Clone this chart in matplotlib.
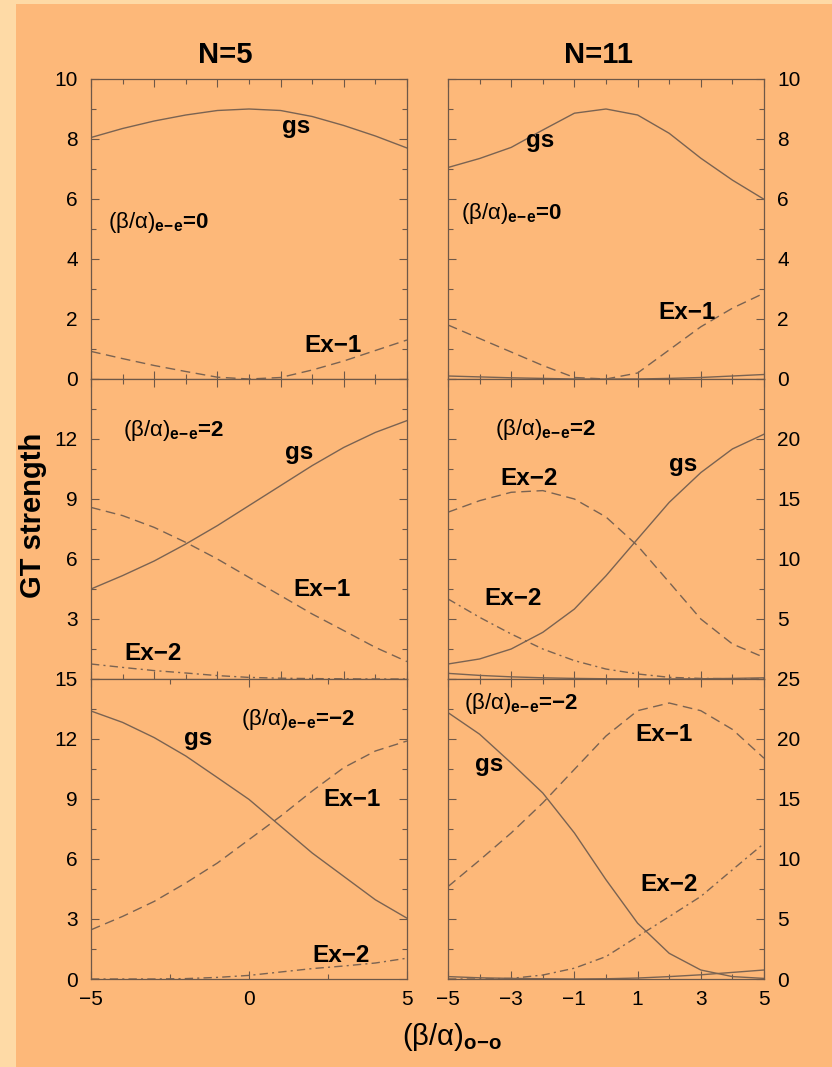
import numpy as np
import matplotlib.pyplot as plt
from matplotlib.patches import Rectangle
from matplotlib.ticker import MultipleLocator, FixedLocator
from matplotlib import font_manager

# data
x = np.arange(-5, 6)

# N=5, (b/a)e-e = 0
n5_e0_gs  = [8.05, 8.35, 8.6, 8.8, 8.95, 9.0, 8.95, 8.75, 8.45, 8.1, 7.7]
n5_e0_ex1 = [0.92, 0.68, 0.45, 0.25, 0.06, 0.0, 0.05, 0.3, 0.6, 0.95, 1.3]
# N=11, (b/a)e-e = 0
n11_e0_gs  = [7.05, 7.35, 7.72, 8.3, 8.86, 9.0, 8.8, 8.19, 7.36, 6.63, 5.99]
n11_e0_ex1 = [1.8, 1.35, 0.9, 0.45, 0.05, 0.0, 0.2, 0.97, 1.74, 2.36, 2.86]
n11_e0_low = [0.1, 0.07, 0.04, 0.02, 0.0, 0.0, 0.0, 0.02, 0.05, 0.1, 0.15]

# N=5, (b/a)e-e = 2
n5_e2_gs  = [4.5, 5.17, 5.9, 6.75, 7.67, 8.67, 9.67, 10.67, 11.58, 12.33, 12.92]
n5_e2_ex1 = [8.58, 8.17, 7.58, 6.83, 6.0, 5.08, 4.17, 3.25, 2.42, 1.58, 0.87]
n5_e2_ex2 = [0.75, 0.58, 0.42, 0.3, 0.17, 0.08, 0.04, 0.02, 0.01, 0.0, 0.0]
# N=11, (b/a)e-e = 2
n11_e2_gs  = [1.25, 1.67, 2.5, 3.89, 5.83, 8.6, 11.67, 14.72, 17.2, 19.17, 20.4]
n11_e2_ex2a = [13.9, 14.86, 15.56, 15.7, 15.0, 13.5, 11.1, 8.06, 5.0, 2.92, 1.8]
n11_e2_ex2b = [6.67, 5.14, 3.75, 2.5, 1.53, 0.83, 0.42, 0.14, 0.05, 0.02, 0.0]
n11_e2_low = [0.47, 0.3, 0.18, 0.1, 0.05, 0.02, 0.0, 0.0, 0.02, 0.05, 0.1]

# N=5, (b/a)e-e = -2
n5_em2_gs  = [13.4, 12.83, 12.07, 11.15, 10.07, 8.98, 7.64, 6.3, 5.13, 3.96, 3.04]
n5_em2_ex1 = [2.46, 3.13, 3.88, 4.8, 5.8, 6.97, 8.14, 9.4, 10.57, 11.4, 11.9]
n5_em2_ex2 = [0.0, 0.0, 0.0, 0.02, 0.08, 0.18, 0.35, 0.52, 0.65, 0.8, 1.04]
# N=11, (b/a)e-e = -2
n11_em2_gs  = [22.2, 20.4, 18.0, 15.5, 12.17, 8.27, 4.65, 2.14, 0.75, 0.2, 0.05]
n11_em2_ex1 = [7.7, 9.9, 12.17, 14.68, 17.47, 20.25, 22.36, 23.0, 22.36, 20.8, 18.4]
n11_em2_ex2 = [0.0, 0.0, 0.05, 0.33, 0.9, 1.87, 3.54, 5.2, 6.88, 9.1, 11.3]
n11_em2_low = [0.2, 0.1, 0.05, 0.02, 0.0, 0.02, 0.08, 0.2, 0.35, 0.55, 0.75]

BG_OUT = '#fedaa6'
BG_IN = '#fdb879'
LC = '#7a6352'
SP = '#6e5848'

plt.rcParams['font.family'] = ['Liberation Sans', 'DejaVu Sans']
plt.rcParams['mathtext.fontset'] = 'custom'
plt.rcParams['mathtext.rm'] = 'Liberation Sans'
plt.rcParams['mathtext.it'] = 'Liberation Sans'
plt.rcParams['mathtext.bf'] = 'Liberation Sans:bold'

# narrow face for the column titles, if present
names = {f.name for f in font_manager.fontManager.ttflist}
title_family = 'Liberation Sans Narrow' if 'Liberation Sans Narrow' in names else 'Liberation Sans'

fig = plt.figure(figsize=(8.32, 10.67), dpi=100, facecolor=BG_OUT)
fig.patches.append(Rectangle((16/832, 0), 1, 1 - 4/1067, transform=fig.transFigure,
                             facecolor=BG_IN, edgecolor='none', zorder=-10))

left_l, left_r = 91/832, 407/832
right_l, right_r = 448/832, 764/832
top, bot = 1 - 79/1067, 1 - 979/1067
h = (top - bot)/3

dash = (0, (7, 4))
dashdot = (0, (6, 3, 1.5, 3))

def make_ax(col, row, ylim, ymaj, ymin, ylabels, xmaj, xmin):
    l, r = (left_l, left_r) if col == 0 else (right_l, right_r)
    ax = fig.add_axes([l, top - (row+1)*h, r - l, h])
    ax.set_facecolor(BG_IN)
    ax.set_xlim(-5, 5)
    ax.set_ylim(*ylim)
    ax.yaxis.set_major_locator(FixedLocator(ymaj))
    ax.yaxis.set_minor_locator(MultipleLocator(ymin))
    ax.set_yticklabels([str(v) if v in ylabels else '' for v in ymaj])
    ax.xaxis.set_major_locator(FixedLocator(xmaj))
    ax.xaxis.set_minor_locator(MultipleLocator(xmin))
    ax.tick_params(which='both', direction='in', top=True, right=True, color=SP, width=0.8,
                   labelsize=15, labelcolor='black')
    ax.tick_params(which='major', length=6)
    ax.tick_params(which='minor', length=3.5)
    ax.tick_params(axis='y', which='major', pad=9.5)
    ax.tick_params(axis='x', which='major', pad=8)
    if col == 1:
        ax.tick_params(labelleft=False, labelright=True)
    if row < 2:
        ax.tick_params(labelbottom=False)
    else:
        ax.set_xticklabels([str(v).replace('-', '\u2212') for v in xmaj])
    for s in ax.spines.values():
        s.set_color(SP)
        s.set_linewidth(0.9)
    return ax

def lab(ax, xx, yy, s, ha='center'):
    ax.text(xx, yy, s, fontsize=17.5, fontweight='bold', ha=ha, va='center')

def ee(ax, xx, yy, val):
    ax.text(xx, yy, r'$(\beta/\alpha)_{\mathbf{e\!-\!e}}$' + '=' + val, fontsize=16,
            fontweight='bold', ha='left', va='center')

kw = dict(color=LC, lw=1.0)

# row 0
ax = make_ax(0, 0, (0, 10), [0, 2, 4, 6, 8, 10], 1, [0, 2, 4, 6, 8, 10], [-5, -3, -1, 1, 3, 5], 1)
ax.plot(x, n5_e0_gs, **kw)
ax.plot(x, n5_e0_ex1, ls=dash, **kw)
lab(ax, 1.5, 8.4, 'gs')
lab(ax, 2.65, 1.1, 'Ex\u22121')
ee(ax, -4.45, 5.2, '0')

ax = make_ax(1, 0, (0, 10), [0, 2, 4, 6, 8, 10], 1, [0, 2, 4, 6, 8, 10], [-5, -3, -1, 1, 3, 5], 1)
ax.plot(x, n11_e0_gs, **kw)
ax.plot(x, n11_e0_ex1, ls=dash, **kw)
ax.plot(x, n11_e0_low, **kw)
lab(ax, -2.1, 7.95, 'gs')
lab(ax, 2.55, 2.2, 'Ex\u22121')
ee(ax, -4.6, 5.5, '0')

# row 1
ax = make_ax(0, 1, (0, 15), [0, 3, 6, 9, 12, 15], 1.5, [3, 6, 9, 12], [-5, -3, -1, 1, 3, 5], 1)
ax.plot(x, n5_e2_gs, **kw)
ax.plot(x, n5_e2_ex1, ls=dash, **kw)
ax.plot(x, n5_e2_ex2, ls=dashdot, **kw)
lab(ax, 1.6, 11.3, 'gs')
lab(ax, 2.3, 4.5, 'Ex\u22121')
lab(ax, -3.05, 1.25, 'Ex\u22122')
ee(ax, -4.0, 12.4, '2')

ax = make_ax(1, 1, (0, 25), [0, 5, 10, 15, 20, 25], 2.5, [5, 10, 15, 20], [-5, -3, -1, 1, 3, 5], 1)
ax.plot(x, n11_e2_gs, **kw)
ax.plot(x, n11_e2_ex2a, ls=dash, **kw)
ax.plot(x, n11_e2_ex2b, ls=dashdot, **kw)
ax.plot(x, n11_e2_low, **kw)
lab(ax, 2.45, 17.9, 'gs')
lab(ax, -2.45, 16.7, 'Ex\u22122')
lab(ax, -2.95, 6.7, 'Ex\u22122')
ee(ax, -3.5, 20.8, '2')

# row 2
ax = make_ax(0, 2, (0, 15), [0, 3, 6, 9, 12, 15], 1.5, [0, 3, 6, 9, 12, 15], [-5, 0, 5], 2.5)
ax.plot(x, n5_em2_gs, **kw)
ax.plot(x, n5_em2_ex1, ls=dash, **kw)
ax.plot(x, n5_em2_ex2, ls=dashdot, **kw)
lab(ax, -1.6, 12.05, 'gs')
lab(ax, 3.25, 9.0, 'Ex\u22121')
lab(ax, 2.9, 1.2, 'Ex\u22122')
ee(ax, -0.25, 13.0, '\u22122')

ax = make_ax(1, 2, (0, 25), [0, 5, 10, 15, 20, 25], 2.5, [0, 5, 10, 15, 20, 25], [-5, -3, -1, 1, 3, 5], 1)
ax.plot(x, n11_em2_gs, **kw)
ax.plot(x, n11_em2_ex1, ls=dash, **kw)
ax.plot(x, n11_em2_ex2, ls=dashdot, **kw)
ax.plot(x, n11_em2_low, **kw)
lab(ax, -3.7, 17.9, 'gs')
lab(ax, 1.85, 20.4, 'Ex\u22121')
lab(ax, 2.0, 7.85, 'Ex\u22122')
ee(ax, -4.5, 23.0, '\u22122')

fig.text(225/832, 1 - 55/1067, 'N=5', fontsize=21, fontweight='bold', family=title_family,
         ha='center', va='center')
fig.text(598/832, 1 - 55/1067, 'N=11', fontsize=21, fontweight='bold', family=title_family,
         ha='center', va='center')
fig.text(33/832, 1 - 515/1067, 'GT strength', fontsize=21, fontweight='bold', rotation=90,
         ha='center', va='center')
fig.text(452/832, 1 - 1037/1067, r'$(\beta/\alpha)_{\mathbf{o\!-\!o}}$', fontsize=21,
         ha='center', va='center')

fig.savefig('out.png', dpi=100, facecolor=fig.get_facecolor())
